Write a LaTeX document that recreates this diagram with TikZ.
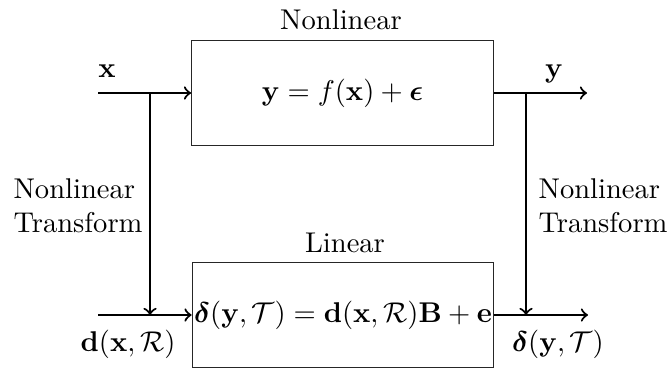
\documentclass[tikz,border=0pt]{standalone}
\usepackage{amsmath}
\usepackage{amssymb}
\usepackage{bm}
\usepackage{tikz}
\usepackage{xcolor}

\begin{document}
\begin{tikzpicture}[x=0.35pt,y=-0.35pt,
    block/.style={draw=black!85,line width=0.4pt,minimum width=105.6pt,minimum height=37pt,inner sep=0pt},
    sig/.style={line width=0.75pt,->}]
  \useasboundingbox (0,0) rectangle (667,369);
  \node[block] (nl) at (342.5,93) {$\mathbf{y}=f(\mathbf{x})+\bm{\epsilon}$};
  \node[block] (lin) at (343,315) {$\bm{\delta}(\mathbf{y},\mathcal{T})=\mathbf{d}(\mathbf{x},\mathcal{R})\mathbf{B}+\mathbf{e}$};
  \node (nlname) at (341,20) {Nonlinear};
  \node (linname) at (345,243) {Linear};
  % signals in and out
  \coordinate (xin) at (98,93);
  \coordinate (yout) at (587,93);
  \coordinate (din) at (98,315);
  \coordinate (dout) at (588,315);
  \coordinate (xsplit) at (150,93);
  \coordinate (ysplit) at (526,93);
  \draw[sig] (xin) -- (nl);
  \draw[sig] (nl) -- (yout);
  \draw[sig] (din) -- (lin);
  \draw[sig] (lin) -- (dout);
  \draw[sig] (xsplit) -- (xsplit |- din);
  \draw[sig] (ysplit) -- (ysplit |- dout);
  \node[anchor=base] (xlab) at (107,77) {$\mathbf{x}$};
  \node[anchor=base] (ylab) at (554,77) {$\mathbf{y}$};
  \node[anchor=base] (dlab) at (128,351) {$\mathbf{d}(\mathbf{x},\mathcal{R})$};
  \node[anchor=base] (deltalab) at (558,351) {$\bm{\delta}(\mathbf{y},\mathcal{T})$};
  \node[align=left,anchor=west,inner sep=0pt] (ltrans) at (13,206) {Nonlinear\\Transform};
  \node[align=left,anchor=west,inner sep=0pt] (rtrans) at (538,206) {Nonlinear\\Transform};
\end{tikzpicture}
\end{document}
